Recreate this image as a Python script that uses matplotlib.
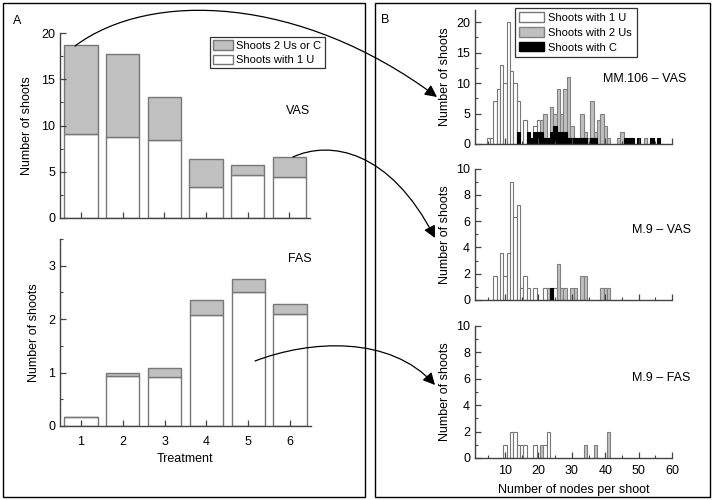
import matplotlib
matplotlib.use('Agg')
import matplotlib.pyplot as plt
from matplotlib.patches import FancyArrowPatch, Rectangle, Patch
from matplotlib.path import Path
from matplotlib.transforms import Affine2D
from matplotlib.ticker import MultipleLocator, NullFormatter

plt.rcParams['font.family'] = ['Liberation Sans', 'DejaVu Sans']
plt.rcParams['font.size'] = 9

# ---------------- data: panel A ----------------
treatments = [1, 2, 3, 4, 5, 6]
vas_one_u = [9.08, 8.76, 8.43, 3.32, 4.68, 4.43]
vas_multi = [9.59, 9.01, 4.65, 3.06, 1.09, 2.16]
fas_one_u = [0.16, 0.93, 0.92, 2.07, 2.51, 2.09]
fas_multi = [0.00, 0.07, 0.16, 0.29, 0.24, 0.19]

# ---------------- data: panel B ----------------
mm106_1u_nodes = [5, 6, 7, 8, 9, 10, 11, 12, 13, 14, 16, 17, 19, 20]
mm106_1u_counts = [1, 1, 7, 9, 13, 10, 20, 12, 10, 7, 4, 1, 3, 4]
mm106_2u_nodes = [21, 22, 23, 24, 25, 26, 27, 28, 29, 30, 31, 33, 34, 35, 36, 37,
                  38, 39, 40, 41, 44, 45, 52]
mm106_2u_counts = [4, 5, 1, 6, 5, 9, 5, 9, 11, 3, 1, 5, 2, 1, 7, 2, 4, 5, 3, 1, 1, 2, 1]
mm106_c_nodes = [14, 17, 18, 19, 20, 21, 22, 23, 24, 25, 26, 27, 28, 29, 30, 31, 32,
                 33, 34, 36, 37, 46, 47, 48, 50, 54, 56]
mm106_c_counts = [2, 2, 1, 2, 2, 2, 1, 1, 2, 3, 2, 2, 2, 1, 1, 1, 1, 1, 1, 1, 1,
                  1, 1, 1, 1, 1, 1]

m9vas_1u_nodes = [7, 9, 10, 11, 12, 13, 14, 15, 16, 17, 19, 22, 25]
m9vas_1u_counts = [1.8, 3.6, 1.8, 3.6, 9.0, 6.3, 7.2, 0.9, 1.8, 0.9, 0.9, 0.9, 0.9]
m9vas_2u_nodes = [23, 26, 27, 28, 30, 31, 33, 34, 39, 40, 41]
m9vas_2u_counts = [0.9, 2.7, 0.9, 0.9, 0.9, 0.9, 1.8, 1.8, 0.9, 0.9, 0.9]
m9vas_c_nodes = [24]
m9vas_c_counts = [0.9]

m9fas_1u_nodes = [10, 12, 13, 14, 15, 16, 19, 22, 23]
m9fas_1u_counts = [1, 2, 2, 1, 1, 1, 1, 1, 2]
m9fas_2u_nodes = [21, 34, 37, 41]
m9fas_2u_counts = [1, 1, 1, 2]

W, H = 720, 500
fig = plt.figure(figsize=(W / 100, H / 100), dpi=100)

def rect(x0, y0, x1, y1):
    return [x0 / W, 1 - y1 / H, (x1 - x0) / W, (y1 - y0) / H]

pix = Affine2D().scale(1 / W, -1 / H).translate(0, 1) + fig.transFigure

GRAY = '#c0c0c0'
EDGE = '#777777'
SPINE = '#444444'

def style(ax):
    for s in ['top', 'right']:
        ax.spines[s].set_visible(False)
    for s in ['left', 'bottom']:
        ax.spines[s].set_color(SPINE)
        ax.spines[s].set_linewidth(1.0)
    ax.tick_params(which='both', direction='in', colors=SPINE, labelcolor='black',
                   labelsize=9)
    ax.tick_params(which='major', length=4, width=0.9)
    ax.tick_params(which='minor', length=2.5, width=0.8)

# ---- frames ----
fig.add_artist(Rectangle((3, 3), 362, 494, transform=pix, fill=False, lw=1.0,
                         edgecolor='black'))
fig.add_artist(Rectangle((375, 3), 335, 494, transform=pix, fill=False, lw=1.0,
                         edgecolor='black'))

# ---- panel A top (VAS) ----
axA1 = fig.add_axes(rect(60, 33, 310, 218))
axA1.bar(treatments, vas_one_u, 0.8, color='white', edgecolor=EDGE, lw=1)
axA1.bar(treatments, vas_multi, 0.8, bottom=vas_one_u, color=GRAY, edgecolor=EDGE, lw=1)
axA1.set_xlim(0.5, 6.5)
axA1.set_ylim(0, 20)
axA1.set_xticks(treatments)
axA1.set_xticklabels([])
axA1.yaxis.set_major_locator(MultipleLocator(5))
axA1.yaxis.set_minor_locator(MultipleLocator(2.5))
style(axA1)
axA1.set_ylabel('Number of shoots', fontsize=9, labelpad=6)
legA = axA1.legend(handles=[Patch(facecolor=GRAY, edgecolor=EDGE, label='Shoots 2 Us or C'),
                            Patch(facecolor='white', edgecolor=EDGE, label='Shoots with 1 U')],
                   loc='upper left', bbox_to_anchor=(210 / W, 1 - 37 / H),
                   bbox_transform=fig.transFigure, borderaxespad=0, fontsize=8,
                   fancybox=False, framealpha=1, edgecolor='#333333',
                   handlelength=1.8, handleheight=0.9, labelspacing=0.35,
                   borderpad=0.3, handletextpad=0.25)
legA.get_frame().set_linewidth(0.9)
axA1.text(298 / W, 1 - 111 / H, 'VAS', transform=fig.transFigure, ha='center',
          va='center', fontsize=9)

# ---- panel A bottom (FAS) ----
axA2 = fig.add_axes(rect(60, 239, 311, 426))
axA2.bar(treatments, fas_one_u, 0.8, color='white', edgecolor=EDGE, lw=1)
axA2.bar(treatments, fas_multi, 0.8, bottom=fas_one_u, color=GRAY, edgecolor=EDGE, lw=1)
axA2.set_xlim(0.5, 6.5)
axA2.set_ylim(0, 3.5)
axA2.set_xticks(treatments)
axA2.yaxis.set_major_locator(MultipleLocator(1))
axA2.yaxis.set_minor_locator(MultipleLocator(0.5))
style(axA2)
axA2.tick_params(axis='x', pad=7)
axA2.set_ylabel('Number of shoots', fontsize=9, labelpad=6)
axA2.set_xlabel('Treatment', fontsize=9, labelpad=4)
axA2.text(300 / W, 1 - 259 / H, 'FAS', transform=fig.transFigure, ha='center',
          va='center', fontsize=9)

# ---- panel B ----
def hist_panel(y0, y1, ytop, ymaj, ymin, series, title, title_xy, last=False):
    ax = fig.add_axes(rect(475, y0, 672, y1))
    fills = [('white', EDGE), (GRAY, '#808080'), ('black', 'black')]
    for (nodes, counts), (fc, ec) in zip(series, fills):
        if nodes:
            ax.bar(nodes, counts, 1.0, color=fc, edgecolor=ec, lw=0.8)
    ax.set_xlim(1, 60)
    ax.set_ylim(0, ytop)
    ax.xaxis.set_major_locator(MultipleLocator(10))
    ax.xaxis.set_minor_locator(MultipleLocator(5))
    ax.yaxis.set_major_locator(MultipleLocator(ymaj))
    ax.yaxis.set_minor_locator(MultipleLocator(ymin))
    style(ax)
    if not last:
        ax.xaxis.set_major_formatter(NullFormatter())
    else:
        ax.tick_params(axis='x', pad=5)
        ax.set_xlabel('Number of nodes per shoot', fontsize=9, labelpad=5)
    ax.set_ylabel('Number of shoots', fontsize=9, labelpad=4)
    fig.text(title_xy[0] / W, 1 - title_xy[1] / H, title, ha='center', va='center',
             fontsize=9)
    return ax

axB1 = hist_panel(10, 144, 22, 5, 2.5,
                  [(mm106_1u_nodes, mm106_1u_counts), (mm106_2u_nodes, mm106_2u_counts),
                   (mm106_c_nodes, mm106_c_counts)],
                  'MM.106 – VAS', (645, 79))
legB = axB1.legend(handles=[Patch(facecolor='white', edgecolor=EDGE, label='Shoots with 1 U'),
                            Patch(facecolor=GRAY, edgecolor='#808080', label='Shoots with 2 Us'),
                            Patch(facecolor='black', edgecolor='black', label='Shoots with C')],
                   loc='upper left', bbox_to_anchor=(515 / W, 1 - 8 / H),
                   bbox_transform=fig.transFigure, borderaxespad=0, fontsize=8,
                   fancybox=False, framealpha=1, edgecolor='#333333',
                   handlelength=2.2, handleheight=0.9, labelspacing=0.4,
                   borderpad=0.4, handletextpad=0.4)
legB.get_frame().set_linewidth(0.9)

hist_panel(168.5, 300, 10, 2, 1,
           [(m9vas_1u_nodes, m9vas_1u_counts), (m9vas_2u_nodes, m9vas_2u_counts),
            (m9vas_c_nodes, m9vas_c_counts)],
           'M.9 – VAS', (661, 230))
hist_panel(326, 458, 10, 2, 1,
           [(m9fas_1u_nodes, m9fas_1u_counts), (m9fas_2u_nodes, m9fas_2u_counts),
            ([], [])],
           'M.9 – FAS', (661, 378), last=True)

# ---- panel letters ----
fig.text(17 / W, 1 - 21 / H, 'A', ha='center', va='center', fontsize=9)
fig.text(385 / W, 1 - 20 / H, 'B', ha='center', va='center', fontsize=9)

# ---- connecting arrows ----
def curve(p0, p1, p2, p3):
    path = Path([p0, p1, p2, p3], [Path.MOVETO, Path.CURVE4, Path.CURVE4, Path.CURVE4])
    arr = FancyArrowPatch(path=path, arrowstyle='-|>,head_length=0.6,head_width=0.3',
                          mutation_scale=12, color='black', lw=0.9, transform=pix)
    fig.add_artist(arr)

curve((75, 46), (150, -10), (300, -5), (437, 97))
curve((293, 157), (330, 140), (390, 150), (435, 238))
curve((255, 361), (310, 340), (390, 335), (435, 385))

fig.savefig('out.png', dpi=100)
